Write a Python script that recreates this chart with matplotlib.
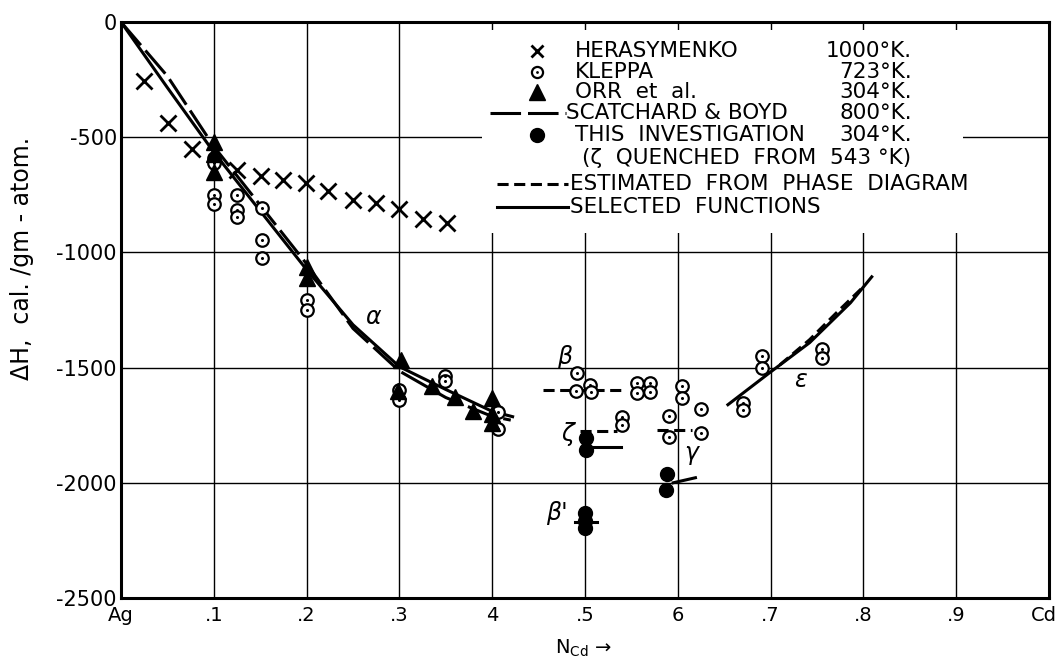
import matplotlib
matplotlib.use('Agg')
import matplotlib.pyplot as plt
from matplotlib.patches import Rectangle
from matplotlib.lines import Line2D
from matplotlib.transforms import ScaledTranslation

plt.rcParams['font.family'] = ['DejaVu Sans']
plt.rcParams['lines.scale_dashes'] = False

# ---------------- data ----------------
x_ticks = [0, 0.1, 0.2, 0.3, 0.4, 0.5, 0.6, 0.7, 0.8, 0.9, 1.0]
x_tick_labels = ['Ag', '.1', '.2', '.3', '4', '.5', '6', '.7', '.8', '.9', 'Cd']
y_ticks = [0, -500, -1000, -1500, -2000, -2500]
y_tick_labels = ['0', '-500', '-1000', '-1500', '-2000', '-2500']

herasymenko_x = [0.025, 0.051, 0.076, 0.125, 0.151, 0.175, 0.199, 0.223, 0.250, 0.275, 0.300, 0.325, 0.351]
herasymenko_y = [-256, -438, -551, -642, -668, -685, -698, -733, -772, -785, -811, -854, -871]

kleppa_x = [0.1, 0.1, 0.1, 0.1, 0.125, 0.125, 0.125, 0.152, 0.152, 0.152, 0.2, 0.2,
            0.3, 0.3, 0.349, 0.349, 0.406, 0.406, 0.491, 0.490, 0.505, 0.507,
            0.540, 0.540, 0.556, 0.556, 0.570, 0.570, 0.590, 0.590, 0.605, 0.605,
            0.625, 0.625, 0.670, 0.670, 0.691, 0.691, 0.755, 0.755]
kleppa_y = [-590, -612, -752, -790, -750, -815, -848, -807, -945, -1024, -1206, -1249,
            -1596, -1639, -1535, -1558, -1691, -1765, -1522, -1600, -1574, -1604,
            -1713, -1750, -1566, -1609, -1566, -1604, -1709, -1800, -1579, -1631,
            -1678, -1782, -1652, -1683, -1449, -1501, -1418, -1457]

orr_x = [0.1, 0.1, 0.1, 0.2, 0.2, 0.302, 0.298, 0.335, 0.36, 0.379, 0.4, 0.4, 0.4]
orr_y = [-520, -572, -650, -1062, -1110, -1466, -1600, -1580, -1626, -1690, -1630, -1700, -1740]

this_x = [0.501, 0.501, 0.5, 0.5, 0.5, 0.588, 0.587]
this_y = [-1804, -1856, -2130, -2165, -2195, -1960, -2030]

# selected functions (solid)
alpha_x = [0, 0.05, 0.1, 0.15, 0.2, 0.25, 0.3, 0.35, 0.4, 0.422]
alpha_y = [0, -285, -565, -820, -1075, -1314, -1496, -1595, -1690, -1713]
zeta_sel_x = [0.505, 0.539]
zeta_sel_y = [-1843, -1843]
betap_sel_x = [0.489, 0.513]
betap_sel_y = [-2168, -2168]
gamma_sel_x = [0.595, 0.619]
gamma_sel_y = [-2000, -1978]
eps_sel_x = [0.654, 0.699, 0.742, 0.786, 0.809]
eps_sel_y = [-1661, -1522, -1392, -1219, -1106]

# Scatchard & Boyd
sb_x = [0, 0.05, 0.1, 0.15, 0.2, 0.25, 0.3, 0.35, 0.4, 0.42]
sb_y = [0, -235, -540, -795, -1050, -1330, -1515, -1630, -1712, -1728]

# estimated from phase diagram (dashed)
beta_est_x = [0.455, 0.54]
beta_est_y = [-1598, -1598]
zeta_est_x = [0.495, 0.535]
zeta_est_y = [-1775, -1775]
gamma_est_x = [0.578, 0.615]
gamma_est_y = [-1773, -1773]
eps_est_x = [0.71, 0.742, 0.771, 0.80]
eps_est_y = [-1488, -1379, -1262, -1149]

# ---------------- figure ----------------
W, H = 1059, 662
fig = plt.figure(figsize=(W / 100, H / 100), dpi=100)
L, R, T, B = 121, 1049, 22, 598
ax = fig.add_axes([L / W, 1 - B / H, (R - L) / W, (B - T) / H])
ax.set_xlim(0, 1)
ax.set_ylim(-2500, 0)

ax.set_xticks(x_ticks)
ax.set_xticklabels(x_tick_labels, fontsize=14)
ax.set_yticks(y_ticks)
ax.set_yticklabels(y_tick_labels, fontsize=15)
ax.tick_params(length=0, pad=6)
ax.tick_params(axis='y', pad=3)
last = ax.get_xticklabels()[-1]
last.set_horizontalalignment('right')
last.set_transform(last.get_transform() + ScaledTranslation(8 / 100, 0, fig.dpi_scale_trans))
ax.grid(True, color='black', linewidth=1.0)
ax.set_axisbelow(True)
for s in ax.spines.values():
    s.set_linewidth(2.2)

lw = 2.2
# curves
ax.plot(alpha_x, alpha_y, color='black', lw=lw, zorder=3)
ax.plot(sb_x, sb_y, color='black', lw=lw, dashes=(22, 5), zorder=3)
for xs, ys in [(zeta_sel_x, zeta_sel_y), (betap_sel_x, betap_sel_y),
               (gamma_sel_x, gamma_sel_y), (eps_sel_x, eps_sel_y)]:
    ax.plot(xs, ys, color='black', lw=lw, zorder=3)
for xs, ys in [(beta_est_x, beta_est_y), (zeta_est_x, zeta_est_y),
               (gamma_est_x, gamma_est_y), (eps_est_x, eps_est_y)]:
    ax.plot(xs, ys, color='black', lw=lw, dashes=(8, 4), zorder=3)

# points
ax.plot(herasymenko_x, herasymenko_y, ls='none', marker='x', ms=11, mew=2.0,
        color='black', zorder=4)
ax.plot(kleppa_x, kleppa_y, ls='none', marker='o', ms=9, mew=1.6,
        mfc='white', mec='black', zorder=4)
ax.plot(kleppa_x, kleppa_y, ls='none', marker='o', ms=2.2, mew=0,
        color='black', zorder=4)
ax.plot(orr_x, orr_y, ls='none', marker='^', ms=12, color='black', zorder=5)
ax.plot(this_x, this_y, ls='none', marker='o', ms=10, color='black', zorder=5)

# phase labels
gk = dict(fontsize=17, style='italic', color='black', ha='center', va='center')
ax.text(0.272, -1280, 'α', **gk)
ax.text(0.478, -1455, 'β', **gk)
ax.text(0.481, -1790, 'ζ', **gk)
ax.text(0.470, -2130, "β'", **gk)
ax.text(0.615, -1870, 'γ', **gk)
ax.text(0.732, -1553, 'ε', **gk)

# axis labels
fig.text(22 / W, 1 - 258 / H, 'ΔH,  cal. /gm - atom.', rotation=90,
         fontsize=17, ha='center', va='center')
fig.text(584 / W, 1 - 648 / H, r'N$_{\mathrm{Cd}}$ →', fontsize=14,
         ha='center', va='center')

# ---------------- legend (manual) ----------------
def fx(px):
    return px / W

def fy(py):
    return 1 - py / H

box_x0, box_x1, box_y0, box_y1 = 482, 963, 30, 233
fig.patches.append(Rectangle((fx(box_x0), fy(box_y1)), fx(box_x1) - fx(box_x0),
                             fy(box_y0) - fy(box_y1), transform=fig.transFigure,
                             facecolor='white', edgecolor='none', zorder=6))

rows = [51, 72, 92, 113, 135, 158, 184, 207]
fs_leg = 15.5
tk = dict(fontsize=fs_leg, va='center', ha='left', zorder=8)
mx = 537
tx = 575
temp_r = 912

fig.add_artist(Line2D([fx(mx)], [fy(rows[0])], marker='x', ms=9, mew=2.0,
                      color='black', transform=fig.transFigure, zorder=8))
fig.add_artist(Line2D([fx(mx)], [fy(rows[1])], marker='o', ms=8, mew=1.6,
                      mfc='white', mec='black', transform=fig.transFigure, zorder=8))
fig.add_artist(Line2D([fx(mx)], [fy(rows[1])], marker='o', ms=2, mew=0,
                      color='black', transform=fig.transFigure, zorder=9))
fig.add_artist(Line2D([fx(mx)], [fy(rows[2])], marker='^', ms=12,
                      color='black', transform=fig.transFigure, zorder=8))
fig.add_artist(Line2D([fx(490), fx(566)], [fy(rows[3]), fy(rows[3])], lw=lw,
                      dashes=(22, 5), color='black', transform=fig.transFigure, zorder=8))
fig.add_artist(Line2D([fx(mx)], [fy(rows[4])], marker='o', ms=10,
                      color='black', transform=fig.transFigure, zorder=8))
fig.add_artist(Line2D([fx(497), fx(568)], [fy(rows[6]), fy(rows[6])], lw=lw,
                      dashes=(8, 4), color='black', transform=fig.transFigure, zorder=8))
fig.add_artist(Line2D([fx(497), fx(568)], [fy(rows[7]), fy(rows[7])], lw=lw,
                      color='black', transform=fig.transFigure, zorder=8))

names = ['HERASYMENKO', 'KLEPPA', 'ORR  et  al.', 'SCATCHARD & BOYD', 'THIS  INVESTIGATION']
temps = ['1000°K.', '723°K.', '304°K.', '800°K.', '304°K.']
for i, (n, t) in enumerate(zip(names, temps)):
    fig.text(fx(tx if i != 3 else 566), fy(rows[i]), n, **tk)
    fig.text(fx(temp_r), fy(rows[i]), t, fontsize=fs_leg, va='center', ha='right', zorder=8)
fig.text(fx(582), fy(rows[5]), '(ζ  QUENCHED  FROM  543 °K)', **tk)
fig.text(fx(570), fy(rows[6]), 'ESTIMATED  FROM  PHASE  DIAGRAM', **tk)
fig.text(fx(570), fy(rows[7]), 'SELECTED  FUNCTIONS', **tk)

fig.savefig('out.png', dpi=100)
